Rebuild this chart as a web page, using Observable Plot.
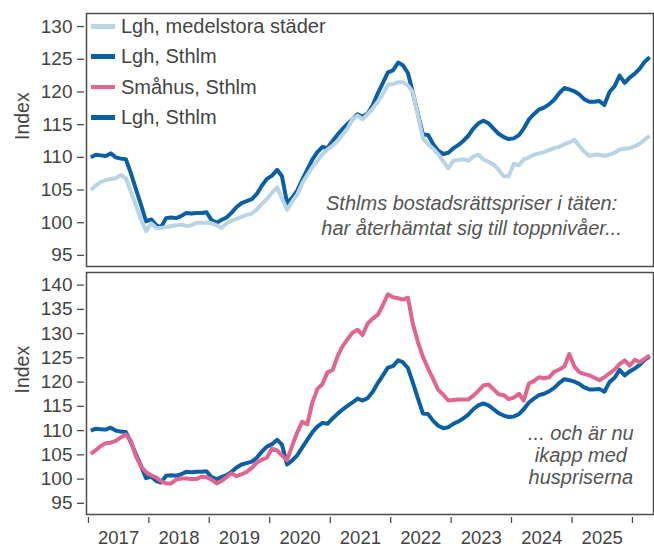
<!DOCTYPE html>
<html>
<head>
<meta charset="utf-8">
<script src="https://cdn.jsdelivr.net/npm/d3@7"></script>
<script src="https://cdn.jsdelivr.net/npm/@observablehq/plot@0.6"></script>
<style>
  html, body { margin: 0; padding: 0; background: #fff; }
  body { font-family: Arial, "Liberation Sans", sans-serif; }
  #wrap { position: relative; width: 654px; height: 548px; }
  #wrap svg { display: block; }
  #legend { position: absolute; left: 91px; top: 11px; color: #444; font-size: 20px; }
  .row { display: flex; align-items: center; height: 30.5px; }
  .sw { width: 24px; margin-right: 6px; border-radius: 0; }
</style>
</head>
<body>
<div id="wrap"></div>
<script>
// ---- data (monthly, Jan 2017 – Apr 2026) ----
const startYear = 2017;
const lghMedel = [
  105.0, 105.7, 106.2, 106.5, 106.7, 106.8, 107.3, 106.8, 104.7, 102.6, 100.5, 98.7,
  99.9, 99.2, 99.2, 99.3, 99.5, 99.6, 99.7, 99.5, 99.6, 100.0, 100.0, 100.0,
  99.9, 99.6, 99.2, 99.9, 100.3, 100.6, 100.9, 101.2, 101.4, 102.0, 102.9, 103.6,
  104.6, 105.4, 103.7, 102.0, 103.2, 104.3, 106.0, 107.3, 108.5, 109.5, 110.5, 111.2,
  111.8, 112.5, 113.4, 114.4, 115.8, 116.4, 115.8, 116.6, 117.5, 118.5, 119.7, 121.1,
  121.2, 121.5, 121.5, 121.0, 120.0, 116.4, 112.9, 112.0, 111.3, 110.5, 109.4, 108.3,
  109.5, 109.6, 109.7, 109.5, 110.1, 110.4, 109.7, 109.3, 108.9, 108.1, 107.1, 107.1,
  109.0, 108.8, 109.7, 110.0, 110.4, 110.6, 110.8, 111.1, 111.4, 111.6, 112.0, 112.3,
  112.7, 111.7, 110.9, 110.2, 110.4, 110.4, 110.2, 110.4, 110.7, 111.2, 111.3, 111.4,
  111.7, 112.1, 112.7, 113.3
];
const lghSthlm = [
  110.0, 110.4, 110.3, 110.2, 110.6, 110.0, 109.8, 109.7, 107.5, 105.1, 102.7, 100.2,
  100.5, 99.6, 99.3, 100.7, 100.8, 100.7, 101.0, 101.5, 101.4, 101.5, 101.5, 101.6,
  100.4, 100.0, 100.4, 100.8, 101.5, 102.4, 103.0, 103.3, 103.6, 104.4, 105.7, 106.7,
  107.2, 108.1, 107.1, 103.0, 103.8, 104.9, 106.5, 108.1, 109.7, 110.8, 111.6, 111.4,
  112.5, 113.5, 114.3, 115.1, 115.8, 116.6, 116.2, 116.7, 118.0, 119.8, 121.4, 123.0,
  123.3, 124.5, 124.1, 122.9, 119.9, 116.6, 113.5, 113.4, 112.0, 111.0, 110.5, 110.7,
  111.4, 111.9, 112.5, 113.3, 114.4, 115.2, 115.6, 115.2, 114.4, 113.6, 113.1, 112.8,
  112.9, 113.4, 114.4, 115.8, 116.6, 117.3, 117.6, 118.1, 118.8, 119.8, 120.6, 120.4,
  120.1, 119.6, 118.9, 118.5, 118.5, 118.6, 118.0, 120.0, 120.9, 122.5, 121.4, 122.2,
  122.8, 123.6, 124.6, 125.3
];
const smahusSthlm = [
  105.2, 106.0, 106.8, 107.4, 107.5, 107.9, 108.6, 109.2, 107.8, 104.7, 102.6, 101.4,
  100.8, 100.3, 99.6, 99.1, 99.1, 99.9, 100.1, 100.1, 100.0, 100.0, 100.5, 100.4,
  99.9, 99.1, 99.6, 100.4, 101.2, 100.6, 101.0, 101.5, 102.3, 103.4, 104.0, 104.4,
  106.3, 105.9, 104.9, 103.9, 106.8, 109.6, 111.8, 111.3, 115.8, 118.6, 119.6, 122.0,
  122.5, 125.4, 127.3, 128.8, 130.2, 130.8, 129.7, 132.1, 133.1, 133.9, 135.9, 138.1,
  137.5, 137.3, 137.0, 137.4, 132.0, 128.2, 125.2, 122.8, 120.6, 118.4, 117.4, 116.2,
  116.3, 116.4, 116.4, 116.4, 117.2, 118.2, 119.3, 119.5, 118.5, 117.5, 117.3, 116.5,
  116.8, 117.6, 116.2, 119.7, 120.2, 121.0, 120.8, 121.0, 122.1, 122.6, 123.2, 125.8,
  123.2, 122.0, 121.7, 121.4, 120.9, 120.4, 121.0, 121.8, 122.6, 123.7, 124.5, 123.4,
  124.6, 124.1, 124.8, 125.5
];

const seriesNames = ["Lgh, medelstora städer", "Lgh, Sthlm", "Småhus, Sthlm"];
const seriesColors = ["#b9d4e4", "#0b5fa5", "#e0668f"];
const legendNames = ["Lgh, medelstora städer", "Lgh, Sthlm", "Småhus, Sthlm", "Lgh, Sthlm"];
const legendColors = ["#b9d4e4", "#0b5fa5", "#e0668f", "#0b5fa5"];
const legendThickness = [5, 5, 4, 5];

const yearTicks = [2017, 2018, 2019, 2020, 2021, 2022, 2023, 2024, 2025, 2026];
const yearLabels = [2017, 2018, 2019, 2020, 2021, 2022, 2023, 2024, 2025];
const yTicksTop = [95, 100, 105, 110, 115, 120, 125, 130];
const yTicksBottom = [95, 100, 105, 110, 115, 120, 125, 130, 135, 140];
const yLabel = "Index";

const noteTop = ["Sthlms bostadsrättspriser i täten:", "har återhämtat sig till toppnivåer..."];
const noteTopPos = {date: "2023-05-05", value: 101.2};
const noteBottom = ["... och är nu", "ikapp med", "huspriserna"];
const noteBottomPos = {date: "2025-02-23", value: 105.0};

// ---- build tables ----
const monthDate = (i) => new Date(Date.UTC(startYear, i, 15));
const toRows = (arr, name) => arr.map((v, i) => ({date: monthDate(i), value: v, series: name}));
const rowsMedel = toRows(lghMedel, seriesNames[0]);
const rowsSthlm = toRows(lghSthlm, seriesNames[1]);
const rowsSmahus = toRows(smahusSthlm, seriesNames[2]);

const xDomain = [new Date(Date.UTC(2016, 11, 20)), new Date(Date.UTC(2026, 4, 8))];
const tickDates = yearTicks.map(y => new Date(Date.UTC(y, 0, 1)));
const labelDates = yearLabels.map(y => new Date(Date.UTC(y, 6, 2)));

const textColor = "#444";
const frameColor = "#4d4d4d";
const font = 'Arial, "Liberation Sans", sans-serif';

function yAxis(ticks) {
  return Plot.axisY(ticks, {
    tickSize: 7, tickPadding: 5, dx: -2, fontSize: 19, label: null,
    stroke: frameColor, fill: textColor, strokeWidth: 1.3
  });
}
function indexLabel() {
  return Plot.text([yLabel], {
    frameAnchor: "left", rotate: -90, dx: -64, fontSize: 19.5, fill: textColor
  });
}
const lineOpts = (color, w = 4) => ({x: "date", y: "value", stroke: color, strokeWidth: w, strokeLinejoin: "round", strokeLinecap: "butt"});

const topChart = Plot.plot({
  width: 654, height: 268,
  marginLeft: 86, marginRight: 1, marginTop: 13, marginBottom: 2,
  style: {fontFamily: font, background: "white", overflow: "visible"},
  x: {type: "utc", domain: xDomain, axis: null},
  y: {domain: [93.3, 132.0]},
  marks: [
    yAxis(yTicksTop),
    indexLabel(),
    Plot.lineY(rowsSthlm, lineOpts(seriesColors[1])),
    Plot.lineY(rowsMedel, lineOpts(seriesColors[0])),
    Plot.text([noteTop.join("\n")], {
      x: () => new Date(noteTopPos.date + "T00:00:00Z"), y: () => noteTopPos.value,
      text: d => d, fontSize: 20, fontStyle: "italic", fill: "#555",
      lineHeight: 1.25, textAnchor: "middle"
    }),
    Plot.frame({stroke: frameColor, strokeWidth: 1.5})
  ]
});

const bottomChart = Plot.plot({
  width: 654, height: 280,
  marginLeft: 86, marginRight: 1, marginTop: 4, marginBottom: 34,
  style: {fontFamily: font, background: "white", overflow: "visible"},
  x: {type: "utc", domain: xDomain},
  y: {domain: [92.7, 142.6]},
  marks: [
    yAxis(yTicksBottom),
    indexLabel(),
    Plot.axisX(tickDates, {tickSize: 6, dy: 3, fill: "none", label: null, stroke: frameColor, strokeWidth: 1.3}),
    Plot.axisX(labelDates, {tickSize: 0, tickPadding: 16.5, tickFormat: d3.utcFormat("%Y"), fontSize: 18.5, fill: textColor, stroke: "none", label: null}),
    Plot.lineY(rowsSthlm, lineOpts(seriesColors[1])),
    Plot.lineY(rowsSmahus, lineOpts(seriesColors[2])),
    Plot.text([noteBottom.join("\n")], {
      x: () => new Date(noteBottomPos.date + "T00:00:00Z"), y: () => noteBottomPos.value,
      text: d => d, fontSize: 20, fontStyle: "italic", fill: "#555",
      lineHeight: 1.12, textAnchor: "middle"
    }),
    Plot.frame({stroke: frameColor, strokeWidth: 1.5})
  ]
});

const wrap = document.getElementById("wrap");
wrap.appendChild(topChart);
wrap.appendChild(bottomChart);

// legend overlay
const legendBox = document.createElement("div");
legendBox.id = "legend";
legendNames.forEach((name, i) => {
  const row = document.createElement("div");
  row.className = "row";
  const sw = document.createElement("span");
  sw.className = "sw";
  sw.style.height = legendThickness[i] + "px";
  sw.style.background = legendColors[i];
  const lbl = document.createElement("span");
  lbl.textContent = name;
  row.appendChild(sw);
  row.appendChild(lbl);
  legendBox.appendChild(row);
});
wrap.appendChild(legendBox);
</script>
</body>
</html>
